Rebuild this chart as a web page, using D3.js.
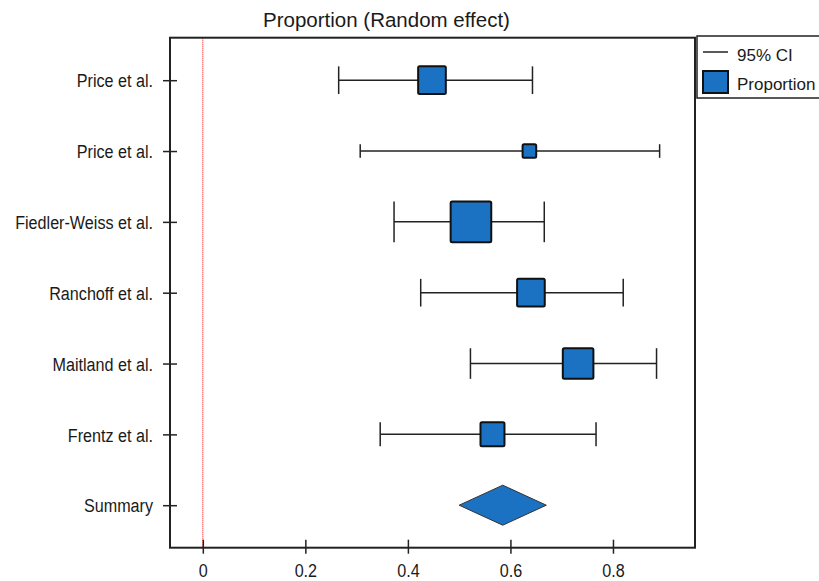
<!DOCTYPE html>
<html>
<head>
<meta charset="utf-8">
<script src="https://cdn.jsdelivr.net/npm/d3@7"></script>
<style>
  body { margin: 0; background: #fff; }
  text { font-family: "Liberation Sans", Arial, sans-serif; fill: #1a1a1a; }
</style>
</head>
<body>
<div id="chart"></div>
<script>
//////////////
// Data
//////////////
var studies   = ['Price et al.', 'Price et al.', 'Fiedler-Weiss et al.', 'Ranchoff et al.', 'Maitland et al.', 'Frentz et al.']
var estimate  = [0.447, 0.637, 0.523, 0.640, 0.732, 0.565]
var lower     = [0.265, 0.307, 0.373, 0.425, 0.522, 0.346]
var upper     = [0.643, 0.891, 0.666, 0.820, 0.885, 0.767]
var weights   = [15.7, 3.8, 33.8, 15.7, 19.2, 11.8]
var summary   = {est: 0.585, lo: 0.500, hi: 0.670}
var xTicks    = [0, 0.2, 0.4, 0.6, 0.8]
var rowLabels = studies.concat(['Summary'])
var legendItems = ['95% CI', 'Proportion']

var rows = studies.map(function(s, i) {
  return {i: i, name: s, est: estimate[i], lo: lower[i], hi: upper[i], w: weights[i]}
})

//////////////
// Setup
//////////////
var W = 819, H = 581
var blue = '#1b72c2', ink = '#222'
var box = {left: 170, right: 695, top: 37.7, bottom: 547.7}

var svg = d3.select('#chart').append('svg')
  .attr('width', W).attr('height', H)

var x = d3.scaleLinear().domain([-0.064, 0.96]).range([box.left, box.right])
var y = d3.scalePoint().domain(d3.range(rowLabels.length)).range([box.top, box.bottom]).padding(0.6)
var size = d3.scaleSqrt().domain([0, d3.max(weights)]).range([0, 40.6])

var squeeze = 0.85  // narrow look of the original labels

// title
svg.append('text')
  .attr('x', 386.5).attr('y', 27)
  .attr('text-anchor', 'middle')
  .attr('font-size', '20.5px')
  .text('Proportion (Random effect)')

// null line at 0
svg.append('line')
  .attr('x1', x(0)).attr('x2', x(0))
  .attr('y1', box.top).attr('y2', box.bottom)
  .attr('stroke', '#f00').attr('stroke-width', 1)
  .attr('stroke-dasharray', '1,1')

// y axis
var yAxis = svg.append('g')
  .attr('transform', 'translate(' + box.left + ',0)')
  .call(d3.axisLeft(y).tickFormat(function(i) { return rowLabels[i] }).tickSizeOuter(0))
yAxis.select('.domain').remove()
yAxis.selectAll('.tick line').attr('x1', -7).attr('x2', 7).attr('stroke', ink).attr('stroke-width', 1.5)
yAxis.selectAll('.tick text')
  .attr('x', -17 / squeeze).attr('dy', '0.35em')
  .attr('transform', 'scale(' + squeeze + ',1)')
  .attr('font-size', '19px').attr('font-family', '"Liberation Sans", Arial, sans-serif')
  .attr('fill', '#1a1a1a')

// x axis
var xAxis = svg.append('g')
  .attr('transform', 'translate(0,' + box.bottom + ')')
  .call(d3.axisBottom(x).tickValues(xTicks).tickFormat(d3.format('')).tickSizeOuter(0))
xAxis.select('.domain').remove()
xAxis.selectAll('.tick line').attr('y1', -8).attr('y2', 6).attr('stroke', ink).attr('stroke-width', 1.5)
xAxis.selectAll('.tick text')
  .attr('y', 29).attr('dy', 0).attr('x', 0)
  .attr('transform', 'scale(' + squeeze + ',1)')
  .attr('font-size', '19px').attr('font-family', '"Liberation Sans", Arial, sans-serif')
  .attr('fill', '#1a1a1a')

// frame
svg.append('rect')
  .attr('x', box.left).attr('y', box.top)
  .attr('width', box.right - box.left).attr('height', box.bottom - box.top)
  .attr('fill', 'none').attr('stroke', ink).attr('stroke-width', 2)

//////////////
// Marks
//////////////
var g = svg.selectAll('g.study').data(rows).enter().append('g').attr('class', 'study')

g.append('line')
  .attr('x1', d => x(d.lo)).attr('x2', d => x(d.hi))
  .attr('y1', d => y(d.i)).attr('y2', d => y(d.i))
  .attr('stroke', ink).attr('stroke-width', 1.5)

g.selectAll('line.cap').data(d => [{v: d.lo, d: d}, {v: d.hi, d: d}]).enter().append('line')
  .attr('class', 'cap')
  .attr('x1', c => x(c.v)).attr('x2', c => x(c.v))
  .attr('y1', c => y(c.d.i) - size(c.d.w) / 2).attr('y2', c => y(c.d.i) + size(c.d.w) / 2)
  .attr('stroke', ink).attr('stroke-width', 1.5)

g.append('rect')
  .attr('x', d => x(d.est) - size(d.w) / 2).attr('y', d => y(d.i) - size(d.w) / 2)
  .attr('width', d => size(d.w)).attr('height', d => size(d.w))
  .attr('rx', 1.5)
  .attr('fill', blue).attr('stroke', '#111').attr('stroke-width', 2)

// summary diamond
var sy = y(rowLabels.length - 1)
svg.append('path')
  .attr('d', d3.line()([[x(summary.lo), sy], [x(summary.est), sy - 20], [x(summary.hi), sy], [x(summary.est), sy + 20]]) + 'Z')
  .attr('fill', blue).attr('stroke', '#333').attr('stroke-width', 1)

//////////////
// Legend
//////////////
var lg = svg.append('g').attr('transform', 'translate(697,36)')
lg.append('rect').attr('width', 140).attr('height', 62)
  .attr('fill', '#fff').attr('stroke', ink).attr('stroke-width', 1.5)
lg.append('line').attr('x1', 6).attr('x2', 31).attr('y1', 16).attr('y2', 16)
  .attr('stroke', ink).attr('stroke-width', 1.5)
lg.append('rect').attr('x', 6).attr('y', 35).attr('width', 25).attr('height', 22)
  .attr('fill', blue).attr('stroke', '#111').attr('stroke-width', 2)
lg.selectAll('text.item').data(legendItems).enter().append('text')
  .attr('class', 'item')
  .attr('x', 40).attr('y', (d, i) => 25 + i * 29)
  .attr('font-size', '17px')
  .text(d => d)
</script>
</body>
</html>
